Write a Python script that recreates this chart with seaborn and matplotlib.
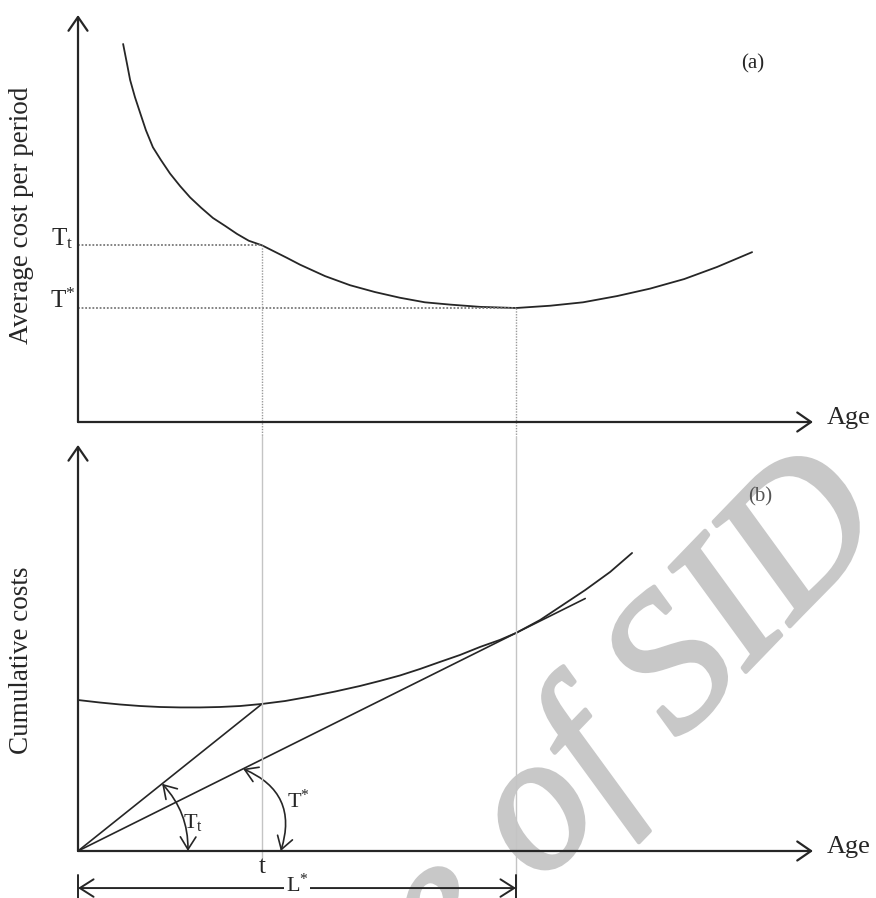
import numpy as np
import pandas as pd
import matplotlib
matplotlib.use("Agg")
import matplotlib.pyplot as plt
import matplotlib.patheffects as pe
import seaborn as sns
from matplotlib.patches import FancyArrowPatch

# ---------------- data (schematic units) ----------------
# Panel (a): average cost per period vs age
age_a = [1.03, 1.12, 1.19, 1.30, 1.42, 1.55, 1.71, 1.89, 2.10, 2.33, 2.56, 2.81,
         3.08, 3.36, 3.63, 3.90, 4.2, 4.77, 5.07, 5.64, 6.21, 6.78, 7.35, 7.92,
         8.49, 9.18, 10.0, 10.78, 11.53, 12.31, 13.06, 13.84, 14.59, 15.39]
cost_a = [33.16, 31.4, 30.0, 28.5, 27.1, 25.6, 24.1, 23.0, 21.8, 20.7, 19.7, 18.8,
          17.9, 17.2, 16.5, 15.9, 15.5, 14.4, 13.8, 12.8, 12.0, 11.4, 10.9, 10.5,
          10.3, 10.1, 10.0, 10.2, 10.5, 11.05, 11.7, 12.54, 13.6, 14.9]

# Panel (b): cumulative costs vs age
age_b = [0.0, 0.50, 0.96, 1.42, 1.87, 2.33, 2.79, 3.24, 3.70, 4.2, 4.73, 5.30,
         5.87, 6.44, 6.89, 7.35, 7.81, 8.26, 8.72, 9.18, 9.63, 10.0, 10.55, 11.0,
         11.58, 12.15, 12.65]
cum_b = [13.85, 13.62, 13.44, 13.30, 13.21, 13.17, 13.17, 13.21, 13.30, 13.49,
         13.76, 14.17, 14.63, 15.14, 15.60, 16.1, 16.70, 17.34, 17.98, 18.72,
         19.36, 20.0, 21.19, 22.39, 23.94, 25.60, 27.34]

t_age = 4.2          # age t
L_star = 10.0        # optimal age L*
T_t_level = 15.5     # average cost at t
T_star_level = 10.0  # minimum average cost
cum_at_t = 13.49
cum_at_L = 20.0
tangent_end_age = 11.58

ylabel_a = "Average cost per period"
ylabel_b = "Cumulative costs"
xlabel = "Age"

# ---------------- style ----------------
sns.set_theme(style="white")
plt.rcParams["font.family"] = ["Liberation Serif", "DejaVu Serif"]
plt.rcParams["mathtext.fontset"] = "custom"
plt.rcParams["mathtext.rm"] = "Liberation Serif"
plt.rcParams["mathtext.it"] = "Liberation Serif:italic"

W, H = 876, 898
fig = plt.figure(figsize=(W / 100, H / 100), dpi=100)
fig.patch.set_facecolor("white")

ax_a = fig.add_axes([0, 1 - 436 / H, 1, 436 / H])
ax_b = fig.add_axes([0, 0, 1, 1 - 436 / H])
for ax in (ax_a, ax_b):
    ax.set_xlim(-1.781, 18.219)
    ax.patch.set_alpha(0)
ax_a.set_ylim(-1.228, 37.02)
ax_b.set_ylim(-4.312, 38.07)

ink = "#262626"
axis_arrow = dict(arrowstyle="->,head_length=0.55,head_width=0.38", lw=1.6,
                  color=ink, shrinkA=0, shrinkB=0, mutation_scale=18)

# ---------------- watermark (behind the drawing) ----------------
wm_color = "#c8c8c8"
wm = dict(fontsize=140, color=wm_color, fontstyle="italic",
          rotation=46, rotation_mode="anchor", va="baseline", zorder=-1,
          path_effects=[pe.withStroke(linewidth=3, foreground=wm_color,
                                      joinstyle="round")])
fig.text(540 / W, 1 - 885 / H, "of SID", ha="left", **wm)
fig.text(506 / W, 1 - 920 / H, "Archive", ha="right", **wm)

# ---------------- panel (a) ----------------
df_a = pd.DataFrame({"age": age_a, "cost": cost_a})
sns.lineplot(data=df_a, x="age", y="cost", ax=ax_a, color=ink, lw=1.3,
             sort=False, estimator=None)
ax_a.annotate("", xy=(0, 35.7), xytext=(0, 0), arrowprops=axis_arrow)
ax_a.annotate("", xy=(16.78, 0), xytext=(0, 0), arrowprops=axis_arrow)

dot_h = dict(color="#7a7a7a", lw=1.3, ls=(0, (1, 1)))
dot_v = dict(color="#9a9a9a", lw=1.0, ls=(0, (1, 1)))
ax_a.plot([0, t_age], [T_t_level, T_t_level], **dot_h)
ax_a.plot([0, L_star], [T_star_level, T_star_level], **dot_h)
ax_a.plot([t_age, t_age], [T_t_level, -1.3], **dot_v)
ax_a.plot([L_star, L_star], [T_star_level, -1.3], **dot_v)

ax_a.text(-0.11, T_t_level, r"$\mathrm{T}_{\mathrm{t}}$", fontsize=18,
          ha="right", va="baseline", color=ink)
ax_a.text(-0.07, T_star_level, r"$\mathrm{T}^{*}$", fontsize=18,
          ha="right", va="baseline", color=ink)
ax_a.text(17.1, -0.18, xlabel, fontsize=19, ha="left", va="baseline", color=ink)
ax_a.text(15.41, 31.4, "(a)", fontsize=15, ha="center", va="center", color=ink)
ax_a.text(-1.28, 18.16, ylabel_a, fontsize=19.5, rotation=90,
          ha="center", va="center", color=ink)

# ---------------- panel (b) ----------------
df_b = pd.DataFrame({"age": age_b, "cum": cum_b})
sns.lineplot(data=df_b, x="age", y="cum", ax=ax_b, color=ink, lw=1.3,
             sort=False, estimator=None)
df_l1 = pd.DataFrame({"age": [0, t_age], "cum": [0, cum_at_t]})
sns.lineplot(data=df_l1, x="age", y="cum", ax=ax_b, color=ink, lw=1.2,
             sort=False, estimator=None)
slope_star = cum_at_L / L_star
df_l2 = pd.DataFrame({"age": [0, tangent_end_age],
                      "cum": [0, slope_star * tangent_end_age]})
sns.lineplot(data=df_l2, x="age", y="cum", ax=ax_b, color=ink, lw=1.2,
             sort=False, estimator=None)

ax_b.annotate("", xy=(0, 37.25), xytext=(0, 0), arrowprops=axis_arrow)
ax_b.annotate("", xy=(16.78, 0), xytext=(0, 0), arrowprops=axis_arrow)

light = dict(color="#c4c4c4", lw=1.0)
ax_b.plot([t_age, t_age], [38.1, -0.6], **light)
ax_b.plot([L_star, L_star], [38.1, -3.4], **light)

# angle arcs
slope_t = cum_at_t / t_age
arc_tt = FancyArrowPatch((1.92, slope_t * 1.92), (2.51, 0),
                         connectionstyle="arc3,rad=-0.2",
                         arrowstyle="<->,head_length=0.45,head_width=0.28",
                         mutation_scale=20, lw=1.2, color=ink,
                         shrinkA=0, shrinkB=0)
ax_b.add_patch(arc_tt)
arc_ts = FancyArrowPatch((3.77, slope_star * 3.77), (4.63, 0),
                         connectionstyle="arc3,rad=-0.45",
                         arrowstyle="<->,head_length=0.45,head_width=0.28",
                         mutation_scale=20, lw=1.2, color=ink,
                         shrinkA=0, shrinkB=0)
ax_b.add_patch(arc_ts)

ax_b.text(2.4, 2.11, r"$\mathrm{T}_{\mathrm{t}}$", fontsize=16,
          ha="left", va="baseline", color=ink)
ax_b.text(4.77, 3.94, r"$\mathrm{T}^{*}$", fontsize=16,
          ha="left", va="baseline", color=ink)
ax_b.text(t_age, -2.02, "t", fontsize=18, ha="center", va="baseline", color=ink)

# L* dimension line
dim = FancyArrowPatch((0, -3.4), (L_star, -3.4),
                      arrowstyle="<->,head_length=0.55,head_width=0.35",
                      mutation_scale=18, lw=1.4, color=ink,
                      shrinkA=0, shrinkB=0)
ax_b.add_patch(dim)
ax_b.plot([0, 0], [-2.2, -4.35], color=ink, lw=1.4)
ax_b.plot([L_star, L_star], [-2.2, -4.35], color=ink, lw=1.4)
ax_b.text(5.0, -3.1, r"$\mathrm{L}^{*}$", fontsize=16, ha="center", va="center",
          color=ink, bbox=dict(facecolor="white", edgecolor="none", pad=1.0))

ax_b.text(17.1, -0.18, xlabel, fontsize=19, ha="left", va="baseline", color=ink)
ax_b.text(15.57, 32.48, "(b)", fontsize=15, ha="center", va="center", color="#555555")
ax_b.text(-1.28, 17.52, ylabel_b, fontsize=19.5, rotation=90,
          ha="center", va="center", color=ink)

for ax in (ax_a, ax_b):
    ax.set_axis_off()

fig.savefig("out.png", dpi=100, facecolor="white")
